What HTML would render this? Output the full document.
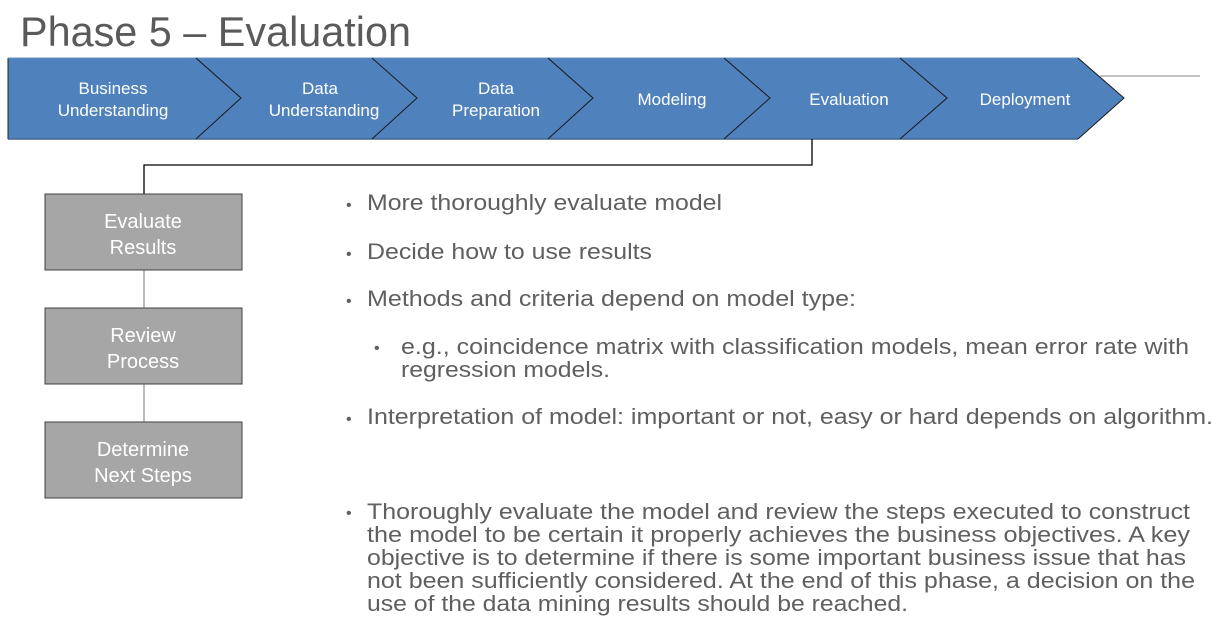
<!DOCTYPE html>
<html><head><meta charset="utf-8"><style>
html,body{margin:0;padding:0;background:#fff;}
svg{display:block;font-family:"Liberation Sans",Arial,sans-serif;}
</style></head><body>
<svg width="1231" height="627" viewBox="0 0 1231 627" xmlns="http://www.w3.org/2000/svg">
<text x="20" y="46" font-size="42" fill="#5a5a5a" textLength="391" lengthAdjust="spacingAndGlyphs">Phase 5 – Evaluation</text>
<line x1="1100" y1="76" x2="1200" y2="76" stroke="#b0b0b0" stroke-width="1.5"/>
<polygon points="8,58 1078,58 1124,98 1078,139 8,139" fill="#4f81bd"/>
<line x1="8" y1="58" x2="8" y2="139" stroke="#222" stroke-width="1"/>
<line x1="8" y1="139" x2="1078" y2="139" stroke="#3f6590" stroke-width="1.5"/>
<line x1="8" y1="58" x2="1078" y2="58" stroke="#6a8fc4" stroke-width="1"/>
<g stroke="#1a1a1a" stroke-width="1" fill="none">
<polyline points="196,58 241,98 196,139"/>
<polyline points="372,58 417,98 372,139"/>
<polyline points="548,58 593,98 548,139"/>
<polyline points="724,58 770,98 724,139"/>
<polyline points="900,58 947,98 900,139"/>
<polyline points="1078,58 1124,98 1078,139"/>
</g>
<g fill="#fff" font-size="17" text-anchor="middle">
<text x="113" y="94">Business</text><text x="113" y="116">Understanding</text>
<text x="320" y="94">Data</text><text x="324" y="116">Understanding</text>
<text x="496" y="94">Data</text><text x="496" y="116">Preparation</text>
<text x="672" y="105">Modeling</text>
<text x="849" y="105">Evaluation</text>
<text x="1025" y="105">Deployment</text>
</g>
<polyline points="812,139 812,165 144,165 144,194" fill="none" stroke="#000" stroke-width="1.3"/>
<line x1="144" y1="270" x2="144" y2="308" stroke="#777" stroke-width="1"/>
<line x1="144" y1="384" x2="144" y2="422" stroke="#777" stroke-width="1"/>
<g fill="#a6a6a6" stroke="#404040" stroke-width="1">
<rect x="45" y="194" width="197" height="76"/>
<rect x="45" y="308" width="197" height="76"/>
<rect x="45" y="422" width="197" height="76"/>
</g>
<g fill="#fff" font-size="20" text-anchor="middle">
<text x="143" y="228">Evaluate</text><text x="143" y="254">Results</text>
<text x="143" y="342">Review</text><text x="143" y="368">Process</text>
<text x="143" y="456">Determine</text><text x="143" y="482">Next Steps</text>
</g>
<g fill="#5f5f5f" font-size="22">
<text x="346" y="210" font-size="16">•</text>
<text x="367" y="210" textLength="355" lengthAdjust="spacingAndGlyphs">More thoroughly evaluate model</text>
<text x="346" y="259" font-size="16">•</text>
<text x="367" y="259" textLength="285" lengthAdjust="spacingAndGlyphs">Decide how to use results</text>
<text x="346" y="306" font-size="16">•</text>
<text x="367" y="306" textLength="489" lengthAdjust="spacingAndGlyphs">Methods and criteria depend on model type:</text>
<text x="374" y="353" font-size="16">•</text>
<text x="401" y="354" textLength="788" lengthAdjust="spacingAndGlyphs">e.g., coincidence matrix with classification models, mean error rate with</text>
<text x="401" y="377" textLength="209" lengthAdjust="spacingAndGlyphs">regression models.</text>
<text x="346" y="424" font-size="16">•</text>
<text x="367" y="424" textLength="846" lengthAdjust="spacingAndGlyphs">Interpretation of model: important or not, easy or hard depends on algorithm.</text>
<text x="346" y="518" font-size="16">•</text>
<text x="367" y="519" textLength="823" lengthAdjust="spacingAndGlyphs">Thoroughly evaluate the model and review the steps executed to construct</text>
<text x="367" y="542" textLength="823" lengthAdjust="spacingAndGlyphs">the model to be certain it properly achieves the business objectives. A key</text>
<text x="367" y="565" textLength="819" lengthAdjust="spacingAndGlyphs">objective is to determine if there is some important business issue that has</text>
<text x="367" y="588" textLength="828" lengthAdjust="spacingAndGlyphs">not been sufficiently considered. At the end of this phase, a decision on the</text>
<text x="367" y="611" textLength="541" lengthAdjust="spacingAndGlyphs">use of the data mining results should be reached.</text>
</g>
</svg>
</body></html>
